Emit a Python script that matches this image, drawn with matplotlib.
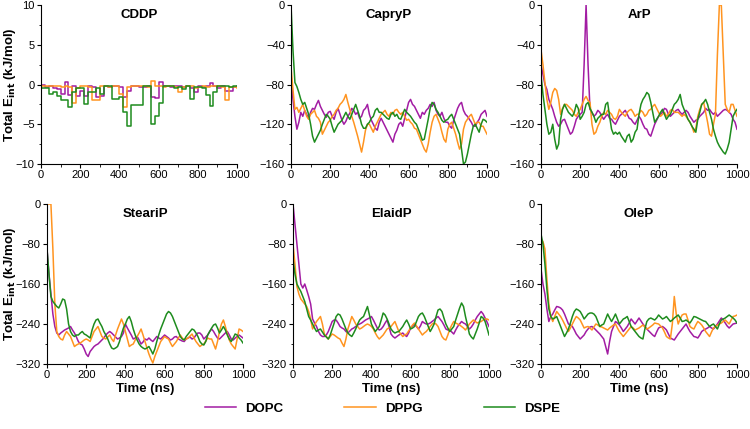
import numpy as np
import matplotlib
matplotlib.use("Agg")
import matplotlib.pyplot as plt
from matplotlib.ticker import AutoMinorLocator

plt.rcParams["font.family"] = ["Liberation Sans", "DejaVu Sans"]

# ── Data (total interaction energy, kJ/mol) ──────────────────────────────────
# CDDP is read as a step trace every 20 ns, the other drugs every 10 ns
cddp_time = np.arange(0, 1001, 20)
time_ns = np.arange(0, 1001, 10)

cddp_dopc = [-0.1, -0.3, -0.2, -0.4, -0.6, -1.2, 0.3, -1.3, -0.2, -1.5,
             -0.8, -1.5, -0.2, -0.3, -1.6, -1.5, -0.2, -0.3, -0.2, -0.2,
             -0.3, -1.6, -0.8, -0.2, -0.2, -0.3, -0.3, -0.2, -1.6, -1.7,
             0.3, -0.2, -0.2, -0.3, -0.2, -0.2, -0.3, -0.2, -0.5, -0.9,
             -0.2, -0.3, -0.2, 0.2, -0.2, -0.4, -0.2, -0.8, -0.8, -0.3,
             -0.2]
cddp_dppg = [-0.2, -0.2, -0.2, -0.2, -0.2, -0.3, -0.2, -0.3, -2.3, -0.5,
             -0.2, -0.2, -0.3, -2.0, -2.0, -0.2, -0.2, -0.3, -0.2, -0.2,
             -1.2, -2.8, -0.3, -0.2, -0.2, -0.2, -0.2, -0.3, 0.5, -0.2,
             -0.2, -0.3, -0.2, -0.2, -0.3, -1.0, -0.3, -0.2, -0.2, -0.5,
             -0.3, -0.2, -0.3, -0.2, -0.2, -0.2, -0.3, -2.0, -0.3, -0.3,
             -0.4]
cddp_dspe = [-0.5, -0.5, -1.2, -1.0, -1.5, -2.0, -2.0, -2.8, -1.0, -0.5,
             -0.5, -2.5, -1.0, -1.0, -0.5, -1.2, -0.2, -0.2, -1.8, -1.8,
             -1.6, -3.5, -5.2, -2.6, -2.6, -2.6, -0.2, -0.2, -5.0, -4.0,
             -2.3, -0.2, -0.2, -0.2, -0.4, -0.3, -0.6, -0.2, -1.8, -0.3,
             -0.3, -0.4, -1.3, -2.7, -1.0, -0.2, -0.2, -0.2, -0.3, -0.2,
             -0.2]

capry_dopc = [-70, -95, -112, -125, -118, -108, -112, -106, -110, -114,
              -108, -104, -105, -100, -96, -102, -106, -110, -113, -108,
              -107, -112, -115, -108, -104, -110, -116, -120, -117, -112,
              -109, -104, -106, -110, -108, -114, -112, -106, -104, -100,
              -110, -116, -120, -124, -126, -118, -114, -118, -122, -126,
              -130, -134, -138, -130, -126, -120, -118, -122, -114, -106,
              -98, -95, -100, -102, -106, -110, -114, -108, -110, -106,
              -104, -100, -102, -98, -106, -110, -112, -108, -114, -118,
              -118, -122, -124, -116, -110, -104, -100, -98, -106, -110,
              -112, -115, -118, -122, -122, -118, -115, -110, -108, -106,
              -112]
capry_dppg = [-62, -85, -105, -103, -108, -104, -100, -106, -112, -115,
              -110, -108, -106, -112, -114, -118, -130, -126, -122, -118,
              -116, -112, -110, -106, -104, -100, -98, -95, -90, -98,
              -105, -112, -118, -125, -132, -140, -148, -138, -126, -120,
              -120, -124, -128, -122, -118, -114, -110, -108, -106, -110,
              -112, -108, -110, -106, -105, -108, -110, -108, -112, -116,
              -115, -118, -120, -124, -125, -130, -135, -140, -145, -148,
              -140, -128, -118, -112, -110, -115, -120, -128, -135, -138,
              -125, -120, -118, -124, -130, -138, -145, -140, -125, -118,
              -115, -112, -110, -115, -120, -118, -118, -122, -122, -126,
              -130]
capry_dspe = [0, -45, -78, -82, -88, -95, -100, -98, -104, -110,
              -120, -132, -138, -134, -130, -126, -120, -115, -110, -112,
              -115, -122, -128, -124, -120, -118, -116, -112, -108, -112,
              -115, -110, -105, -100, -106, -112, -120, -124, -124, -120,
              -118, -114, -112, -106, -104, -108, -108, -110, -112, -114,
              -115, -110, -108, -112, -110, -114, -115, -110, -105, -108,
              -110, -112, -115, -118, -120, -125, -130, -136, -135, -125,
              -115, -104, -98, -100, -105, -108, -112, -116, -118, -116,
              -115, -112, -110, -115, -120, -125, -130, -145, -160, -158,
              -150, -140, -130, -122, -120, -124, -128, -120, -115, -116,
              -118]

ar_dopc = [-60, -70, -80, -85, -95, -100, -105, -112, -118, -122,
           -120, -116, -115, -120, -125, -130, -128, -122, -115, -112,
           -110, -108, -60, 0, -60, -105, -108, -112, -110, -106,
           -108, -112, -115, -112, -110, -114, -115, -118, -120, -116,
           -112, -110, -108, -106, -110, -114, -115, -118, -120, -116,
           -112, -115, -120, -124, -125, -130, -132, -126, -120, -116,
           -112, -110, -108, -104, -105, -110, -112, -110, -108, -106,
           -105, -108, -110, -108, -106, -108, -112, -115, -118, -116,
           -115, -112, -110, -108, -104, -106, -105, -108, -110, -108,
           -112, -110, -108, -106, -105, -106, -108, -110, -115, -118,
           -125]
ar_dppg = [-45, -60, -78, -95, -105, -98, -88, -84, -86, -95,
           -110, -104, -100, -100, -102, -104, -106, -110, -112, -108,
           -105, -100, -95, -92, -96, -98, -120, -130, -128, -122,
           -118, -112, -108, -110, -106, -108, -110, -114, -115, -112,
           -105, -108, -110, -112, -108, -106, -105, -108, -112, -110,
           -110, -106, -108, -112, -110, -106, -105, -102, -100, -104,
           -108, -112, -110, -108, -112, -110, -106, -105, -108, -108,
           -108, -110, -112, -110, -112, -115, -118, -122, -128, -124,
           -112, -105, -100, -98, -108, -118, -130, -132, -120, -110,
           -50, 0, 0, -50, -100, -105, -108, -100, -100, -106,
           -112]
ar_dspe = [-70, -90, -105, -120, -130, -128, -120, -135, -145, -140,
           -115, -105, -100, -104, -108, -110, -112, -108, -100, -104,
           -115, -112, -108, -100, -98, -104, -108, -112, -118, -114,
           -112, -110, -110, -100, -98, -112, -125, -130, -128, -130,
           -128, -132, -135, -138, -132, -130, -138, -135, -128, -125,
           -110, -100, -95, -92, -88, -90, -98, -108, -118, -115,
           -112, -108, -105, -110, -115, -112, -110, -105, -100, -98,
           -95, -90, -100, -105, -110, -115, -118, -122, -125, -128,
           -115, -108, -100, -98, -95, -100, -108, -115, -125, -132,
           -138, -142, -145, -148, -150, -145, -138, -125, -112, -108,
           -105]

stear_dopc = [-90, -140, -180, -220, -245, -258, -262, -258, -255, -252,
              -250, -248, -245, -252, -258, -266, -275, -280, -282, -290,
              -300, -305, -295, -290, -285, -282, -280, -276, -272, -268,
              -262, -258, -255, -258, -262, -266, -270, -268, -265, -258,
              -240, -248, -255, -262, -270, -268, -265, -272, -280, -276,
              -270, -272, -268, -272, -275, -270, -265, -268, -270, -266,
              -262, -265, -268, -272, -270, -266, -265, -270, -272, -274,
              -275, -270, -268, -266, -270, -268, -262, -258, -258, -262,
              -270, -266, -262, -255, -250, -255, -262, -268, -270, -266,
              -262, -258, -255, -262, -270, -272, -268, -265, -262, -265,
              -268]
stear_dppg = [0, 0, 0, -90, -200, -255, -265, -270, -272, -262,
              -255, -260, -265, -275, -285, -282, -280, -278, -275, -272,
              -270, -272, -275, -265, -255, -250, -245, -255, -265, -268,
              -270, -266, -262, -270, -275, -262, -250, -240, -230, -240,
              -255, -270, -285, -282, -280, -272, -265, -258, -250, -262,
              -275, -288, -300, -310, -318, -305, -295, -285, -275, -270,
              -265, -268, -270, -278, -285, -280, -275, -268, -262, -268,
              -272, -270, -268, -264, -260, -268, -275, -280, -285, -282,
              -280, -274, -268, -270, -270, -280, -290, -275, -255, -240,
              -232, -245, -260, -272, -280, -285, -290, -270, -250, -252,
              -255]
stear_dspe = [-90, -140, -185, -195, -200, -205, -208, -200, -190, -192,
              -210, -240, -255, -262, -265, -262, -262, -258, -255, -260,
              -262, -265, -268, -252, -240, -232, -230, -238, -245, -255,
              -262, -270, -280, -288, -290, -288, -285, -275, -260, -248,
              -240, -230, -225, -235, -250, -262, -272, -280, -285, -288,
              -290, -288, -285, -292, -300, -290, -275, -262, -250, -240,
              -230, -220, -215, -218, -225, -235, -245, -255, -265, -270,
              -272, -265, -260, -255, -250, -252, -258, -265, -275, -280,
              -282, -275, -262, -255, -248, -242, -240, -248, -258, -252,
              -245, -252, -262, -270, -275, -268, -260, -262, -268, -272,
              -278]

elaid_dopc = [0, -40, -80, -120, -160, -168, -160, -172, -185, -200,
              -230, -238, -245, -255, -262, -265, -265, -262, -255, -245,
              -235, -232, -232, -238, -245, -248, -250, -255, -258, -254,
              -250, -248, -245, -242, -240, -238, -235, -232, -230, -228,
              -225, -232, -240, -248, -252, -250, -245, -238, -232, -245,
              -260, -265, -268, -265, -262, -260, -258, -262, -265, -258,
              -248, -244, -240, -245, -250, -244, -235, -238, -240, -240,
              -238, -235, -232, -228, -225, -230, -235, -242, -250, -252,
              -252, -256, -260, -252, -245, -240, -235, -238, -240, -245,
              -250, -246, -240, -232, -225, -220, -215, -220, -228, -236,
              -245]
elaid_dppg = [-80, -120, -165, -180, -190, -195, -200, -205, -215, -230,
              -250, -242, -235, -230, -225, -240, -260, -265, -270, -265,
              -260, -262, -265, -268, -270, -278, -285, -270, -250, -238,
              -225, -232, -240, -245, -250, -248, -245, -242, -240, -242,
              -245, -250, -258, -265, -270, -266, -262, -256, -250, -248,
              -245, -240, -235, -245, -255, -260, -265, -262, -260, -254,
              -248, -242, -238, -244, -250, -256, -262, -258, -255, -250,
              -245, -240, -238, -240, -245, -255, -265, -270, -272, -262,
              -250, -242, -235, -238, -240, -242, -245, -248, -252, -246,
              -240, -236, -232, -235, -238, -236, -235, -232, -230, -230,
              -232]
elaid_dspe = [-110, -140, -160, -168, -175, -185, -195, -210, -225, -232,
              -240, -248, -255, -252, -250, -256, -262, -266, -270, -262,
              -250, -238, -225, -220, -222, -230, -240, -250, -258, -262,
              -265, -258, -250, -240, -232, -228, -225, -215, -205, -222,
              -240, -248, -255, -250, -245, -232, -218, -222, -230, -240,
              -250, -255, -258, -256, -255, -250, -245, -238, -232, -240,
              -250, -248, -245, -235, -225, -220, -218, -225, -235, -245,
              -255, -248, -240, -225, -212, -210, -215, -228, -240, -248,
              -255, -250, -245, -232, -220, -208, -198, -205, -225, -242,
              -260, -266, -270, -260, -250, -238, -225, -228, -235, -248,
              -262]

ole_dopc = [-130, -160, -180, -210, -235, -225, -220, -212, -205, -206,
            -208, -212, -220, -230, -240, -242, -245, -252, -260, -265,
            -270, -266, -262, -255, -250, -246, -245, -248, -252, -256,
            -260, -265, -270, -285, -300, -275, -255, -245, -235, -238,
            -242, -248, -255, -250, -245, -238, -230, -235, -240, -234,
            -228, -234, -240, -245, -250, -254, -258, -262, -265, -256,
            -248, -246, -245, -248, -252, -260, -268, -270, -272, -266,
            -260, -255, -250, -245, -240, -248, -255, -260, -265, -266,
            -268, -262, -255, -252, -250, -248, -245, -248, -250, -245,
            -240, -234, -228, -232, -238, -244, -248, -244, -240, -239,
            -238]
ole_dppg = [-70, -75, -90, -150, -200, -225, -235, -225, -215, -220,
            -225, -232, -240, -248, -255, -248, -240, -232, -225, -228,
            -232, -240, -248, -246, -245, -248, -252, -246, -240, -242,
            -245, -246, -248, -250, -252, -248, -245, -242, -240, -248,
            -255, -260, -265, -260, -255, -250, -245, -248, -252, -250,
            -248, -245, -242, -246, -250, -248, -245, -242, -238, -239,
            -240, -244, -248, -256, -265, -268, -270, -240, -185, -220,
            -240, -230, -222, -220, -220, -232, -245, -248, -250, -242,
            -235, -238, -242, -248, -255, -260, -265, -256, -248, -245,
            -242, -240, -238, -235, -232, -236, -240, -232, -225, -224,
            -222]
ole_dspe = [-60, -80, -120, -170, -210, -225, -230, -228, -225, -235,
            -245, -255, -265, -258, -250, -238, -225, -215, -210, -212,
            -215, -222, -230, -225, -220, -218, -218, -220, -225, -235,
            -245, -242, -240, -230, -220, -228, -235, -228, -220, -230,
            -240, -235, -230, -228, -225, -235, -245, -250, -255, -260,
            -265, -268, -270, -250, -235, -230, -228, -230, -232, -228,
            -222, -226, -230, -228, -225, -230, -235, -232, -228, -225,
            -222, -228, -235, -234, -232, -235, -238, -232, -225, -226,
            -228, -230, -232, -234, -235, -240, -245, -242, -240, -245,
            -250, -240, -232, -230, -228, -225, -222, -225, -228, -232,
            -238]

titles = ["CDDP", "CapryP", "ArP", "SteariP", "ElaidP", "OleP"]
series_names = ["DOPC", "DPPG", "DSPE"]

# ── Style ─────────────────────────────────────────────────────────────────────
COLORS = {"DOPC": "#A21CA3", "DPPG": "#FF9420", "DSPE": "#1E8C1E"}
TICK_FS = 8
TITLE_FS = 9.5
LABEL_FS = 9.5
LINE_W = 1.1

panels = [
    (cddp_dopc, cddp_dppg, cddp_dspe),
    (capry_dopc, capry_dppg, capry_dspe),
    (ar_dopc, ar_dppg, ar_dspe),
    (stear_dopc, stear_dppg, stear_dspe),
    (elaid_dopc, elaid_dppg, elaid_dspe),
    (ole_dopc, ole_dppg, ole_dspe),
]

# axes boxes in figure fractions (left, bottom, width, height)
W = 196 / 750
boxes = [
    (41 / 750, 0.6177, W, 0.3706),
    (291 / 750, 0.6177, W, 0.3706),
    (541 / 750, 0.6177, W, 0.3706),
    (47 / 750, 0.1515, W, 0.373),
    (293 / 750, 0.1515, W, 0.373),
    (541 / 750, 0.1515, W, 0.373),
]

fig = plt.figure(figsize=(7.5, 4.29), dpi=100)

for i, (box, data, title) in enumerate(zip(boxes, panels, titles)):
    ax = fig.add_axes(box)
    for name, vals in zip(series_names, data):
        if i == 0:
            ax.plot(cddp_time, vals, color=COLORS[name], lw=LINE_W,
                    label=name, drawstyle="steps-post")
        else:
            ax.plot(time_ns, vals, color=COLORS[name], lw=LINE_W, label=name)

    ax.set_xlim(0, 1000)
    ax.set_xticks([0, 200, 400, 600, 800, 1000])
    if i == 0:
        ax.set_ylim(-10, 10)
        ax.set_yticks([-10, -5, 0, 5, 10])
    elif i < 3:
        ax.set_ylim(-160, 0)
        ax.set_yticks([-160, -120, -80, -40, 0])
    else:
        ax.set_ylim(-320, 0)
        ax.set_yticks([-320, -240, -160, -80, 0])

    ax.xaxis.set_minor_locator(AutoMinorLocator(2))
    ax.yaxis.set_minor_locator(AutoMinorLocator(2))
    ax.tick_params(which="major", direction="out", length=3, width=0.8,
                   labelsize=TICK_FS, pad=1.5)
    ax.tick_params(which="minor", direction="out", length=1.8, width=0.6)
    for side in ("top", "right"):
        ax.spines[side].set_visible(False)
    for side in ("left", "bottom"):
        ax.spines[side].set_linewidth(0.8)

    ax.text(0.5, 0.975, title, transform=ax.transAxes, ha="center", va="top",
            fontsize=TITLE_FS, fontweight="bold")

    if i in (0, 3):
        ax.set_ylabel(r"Total E$_{\mathbf{int}}$ (kJ/mol)", fontsize=LABEL_FS,
                      fontweight="bold")
        # right edge of the rotated label ~18 px from the figure's left edge
        ax.yaxis.set_label_coords((18 - box[0] * 750) / 196, 0.5)
    if i >= 3:
        ax.set_xlabel("Time (ns)", fontsize=LABEL_FS, fontweight="bold",
                      labelpad=2)

handles, labels = fig.axes[1].get_legend_handles_labels()
fig.legend(handles, labels, loc="lower center", ncol=3, frameon=False,
           bbox_to_anchor=(0.51, 0.005), handlelength=2.4, handletextpad=0.7,
           columnspacing=4.6, prop={"weight": "bold", "size": 9.5})

fig.savefig("out.png", dpi=100)
